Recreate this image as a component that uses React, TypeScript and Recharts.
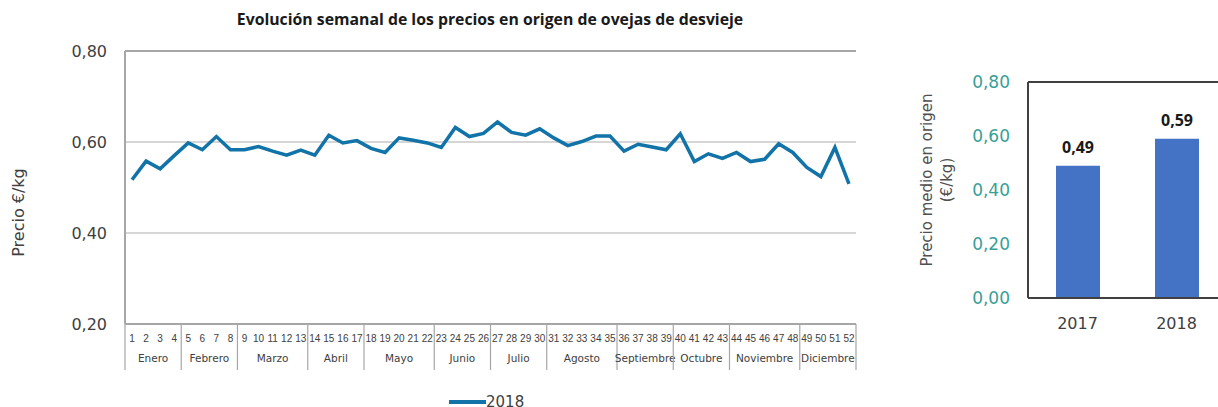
import { Bar, BarChart, CartesianGrid, Label, LabelList, Line, LineChart, ReferenceLine, XAxis, YAxis } from 'recharts'

const weeks = [
  '1', '2', '3', '4', '5', '6', '7', '8', '9', '10', '11', '12', '13',
  '14', '15', '16', '17', '18', '19', '20', '21', '22', '23', '24', '25', '26',
  '27', '28', '29', '30', '31', '32', '33', '34', '35', '36', '37', '38', '39',
  '40', '41', '42', '43', '44', '45', '46', '47', '48', '49', '50', '51', '52',
]

const prices2018 = [
  0.517, 0.558, 0.541, 0.570, 0.598, 0.583, 0.612, 0.583, 0.583, 0.590,
  0.580, 0.571, 0.582, 0.571, 0.615, 0.598, 0.603, 0.586, 0.577, 0.609,
  0.604, 0.598, 0.588, 0.632, 0.612, 0.619, 0.644, 0.621, 0.615, 0.629,
  0.609, 0.592, 0.601, 0.613, 0.613, 0.580, 0.595, 0.589, 0.583, 0.618,
  0.557, 0.574, 0.564, 0.577, 0.557, 0.562, 0.596, 0.577, 0.544, 0.524,
  0.588, 0.508,
]

const months = ['Enero', 'Febrero', 'Marzo', 'Abril', 'Mayo', 'Junio', 'Julio', 'Agosto', 'Septiembre', 'Octubre', 'Noviembre', 'Diciembre']
const weeksPerMonth = [4, 4, 5, 4, 5, 4, 4, 5, 4, 4, 5, 4]

const lineTicks = [0.2, 0.4, 0.6, 0.8]

const years = ['2017', '2018']
const avgPrices = [0.49, 0.59]
const barTicks = [0, 0.2, 0.4, 0.6, 0.8]

const seriesName = '2018'
const lineColor = '#1173a8'
const tickFont = '"DejaVu Sans", sans-serif'

// first week index of every month -> month position
const monthStarts: Record<number, number> = {}
let acc = 0
weeksPerMonth.forEach((n, m) => {
  monthStarts[acc] = m
  acc += n
})

const weeklyData = weeks.map((w, i) => ({ week: w, price: prices2018[i] }))
const yearData = years.map((y, i) => ({ year: y, price: avgPrices[i] }))

const comma = (v: number) => v.toFixed(2).replace('.', ',')

function WeekTick(props: any) {
  const { x, y, payload, index } = props
  const half = payload?.offset ?? 7
  const m = monthStarts[index]
  return (
    <g>
      <text x={x} y={y + 18} textAnchor="middle" fontSize={10} fill="#404040" fontFamily='"Liberation Sans", sans-serif'>
        {payload.value}
      </text>
      {m !== undefined && (
        <>
          <line x1={x - half} x2={x - half} y1={y} y2={y + 46} stroke="#a6a6a6" strokeWidth={1.2} />
          <text x={x + (weeksPerMonth[m] - 1) * half} y={y + 38} textAnchor="middle" fontSize={10.5} fill="#404040" fontFamily={tickFont}>
            {months[m]}
          </text>
        </>
      )}
      {index === weeks.length - 1 && (
        <line x1={x + half} x2={x + half} y1={y} y2={y + 46} stroke="#a6a6a6" strokeWidth={1.2} />
      )}
    </g>
  )
}

function WeeklyChart() {
  return (
    <LineChart width={870} height={380} data={weeklyData} margin={{ top: 51, right: 14, bottom: 10, left: 0 }}>
      <CartesianGrid vertical={false} stroke="#c8c8c8" strokeWidth={1.5} />
      <XAxis
        dataKey="week"
        scale="band"
        interval={0}
        height={46}
        tickLine={false}
        tickSize={0}
        tickMargin={0}
        axisLine={{ stroke: '#a6a6a6', strokeWidth: 2 }}
        tick={<WeekTick />}
      />
      <YAxis
        domain={[0.2, 0.8]}
        ticks={lineTicks}
        width={125}
        tickLine={false}
        tickMargin={12}
        tickFormatter={comma}
        axisLine={{ stroke: '#a6a6a6', strokeWidth: 2 }}
        tick={{ fontSize: 16, fill: '#404040', fontFamily: tickFont }}
      >
        <Label
          content={({ viewBox }: any) => (
            <text
              x={18}
              y={viewBox.y + viewBox.height / 2 + 25}
              transform={`rotate(-90, 18, ${viewBox.y + viewBox.height / 2 + 25})`}
              textAnchor="middle"
              dominantBaseline="central"
              fontSize={16}
              fill="#404040"
              fontFamily={tickFont}
            >
              Precio €/kg
            </text>
          )}
        />
      </YAxis>
      <YAxis yAxisId="frame" orientation="right" width={0} tick={false} tickLine={false} axisLine={{ stroke: '#a6a6a6', strokeWidth: 2 }} />
      <ReferenceLine y={0.8} stroke="#a6a6a6" strokeWidth={2} />
      <Line dataKey="price" name={seriesName} stroke={lineColor} strokeWidth={3.5} dot={false} isAnimationActive={false} />
    </LineChart>
  )
}

function YearChart() {
  return (
    <BarChart width={330} height={345} data={yearData} margin={{ top: 82, right: 4, bottom: 7, left: 0 }}>
      <XAxis
        dataKey="year"
        height={40}
        tickLine={false}
        tickMargin={14}
        axisLine={{ stroke: '#404040', strokeWidth: 2 }}
        tick={{ fontSize: 16, fill: '#404040', fontFamily: tickFont }}
      />
      <YAxis
        domain={[0, 0.8]}
        ticks={barTicks}
        width={128}
        tickLine={false}
        tickMargin={12}
        tickFormatter={comma}
        axisLine={{ stroke: '#404040', strokeWidth: 2 }}
        tick={{ fontSize: 17, fill: '#3a9e98', fontFamily: tickFont }}
      >
        <Label
          content={({ viewBox }: any) => {
            const cy = viewBox.y + viewBox.height / 2 - 10
            return (
              <g fontSize={15} fill="#505050" fontFamily={tickFont} textAnchor="middle">
                <text x={27} y={cy} dominantBaseline="central" transform={`rotate(-90, 27, ${cy})`}>
                  Precio medio en origen
                </text>
                <text x={47} y={cy} dominantBaseline="central" transform={`rotate(-90, 47, ${cy})`}>
                  (€/kg)
                </text>
              </g>
            )
          }}
        />
      </YAxis>
      <ReferenceLine y={0.8} stroke="#404040" strokeWidth={2} />
      <Bar dataKey="price" fill="#4472c4" barSize={44} isAnimationActive={false}>
        <LabelList
          dataKey="price"
          position="top"
          offset={13}
          formatter={(v: any) => comma(Number(v))}
          style={{ fontSize: 16, fontWeight: 700, fill: '#1a1a1a', fontFamily: '"Open Sans", sans-serif' }}
        />
      </Bar>
    </BarChart>
  )
}

export default function App() {
  return (
    <div style={{ position: 'absolute', left: 0, top: 0, width: 1218, height: 407, overflow: 'hidden', background: '#fff' }}>
      <div
        style={{
          position: 'absolute',
          left: 0,
          top: 8,
          width: 980,
          textAlign: 'center',
          fontFamily: '"Open Sans", sans-serif',
          fontWeight: 700,
          fontSize: 15.8,
          color: '#1a1a1a',
        }}
      >
        Evolución semanal de los precios en origen de ovejas de desvieje
      </div>
      <div style={{ position: 'absolute', left: 0, top: 0 }}>
        <WeeklyChart />
      </div>
      <div style={{ position: 'absolute', left: 449, top: 393, display: 'flex', alignItems: 'center', fontFamily: tickFont, fontSize: 15, color: '#404040' }}>
        <svg width={37} height={8}>
          <line x1={0} x2={37} y1={4} y2={4} stroke={lineColor} strokeWidth={4} />
        </svg>
        <span>{seriesName}</span>
      </div>
      <div style={{ position: 'absolute', left: 900, top: 0 }}>
        <YearChart />
      </div>
    </div>
  )
}
